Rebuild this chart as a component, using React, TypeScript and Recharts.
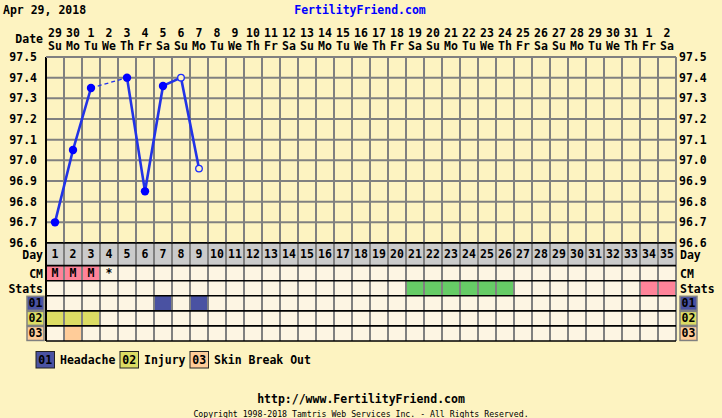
import React from 'react';
import { ComposedChart, Line, XAxis, YAxis, ReferenceLine, ReferenceArea, Scatter } from 'recharts';

const FONT = '"DejaVu Sans Mono", "Liberation Mono", monospace';
const BG = '#fdf3c1';
const CELL = '#fdf5e3';
const GRID = '#808080';

const days = [1, 2, 3, 4, 5, 6, 7, 8, 9, 10, 11, 12, 13, 14, 15, 16, 17, 18, 19, 20, 21, 22, 23, 24, 25, 26, 27, 28, 29, 30, 31, 32, 33, 34, 35];
const dateLabels = ['29', '30', '1', '2', '3', '4', '5', '6', '7', '8', '9', '10', '11', '12', '13', '14', '15', '16', '17', '18', '19', '20', '21', '22', '23', '24', '25', '26', '27', '28', '29', '30', '31', '1', '2'];
const weekdayLabels = ['Su', 'Mo', 'Tu', 'We', 'Th', 'Fr', 'Sa', 'Su', 'Mo', 'Tu', 'We', 'Th', 'Fr', 'Sa', 'Su', 'Mo', 'Tu', 'We', 'Th', 'Fr', 'Sa', 'Su', 'Mo', 'Tu', 'We', 'Th', 'Fr', 'Sa', 'Su', 'Mo', 'Tu', 'We', 'Th', 'Fr', 'Sa'];
const temps: (number | null)[] = [96.7, 97.05, 97.35, null, 97.4, 96.85, 97.36, 97.4, 96.96];
const openDays = [8, 9];
const dashedDays = [3, 5];
const tempTicks = [96.6, 96.7, 96.8, 96.9, 97.0, 97.1, 97.2, 97.3, 97.4, 97.5];

const cmMarks = [
  { day: 1, text: 'M' },
  { day: 2, text: 'M' },
  { day: 3, text: 'M' },
  { day: 4, text: '*' },
];
const cmPinkDays = [1, 2, 3];
const statsGreenDays = [21, 22, 23, 24, 25, 26];
const statsPinkDays = [34, 35];
const sym01Days = [7, 9];
const sym02Days = [1, 2, 3];
const sym03Days = [2];

const rowNames = ['Day', 'CM', 'Stats', '01', '02', '03'];
const rowTops = [0, 1.5, 2.5, 3.5, 4.5, 5.5];
const rowBottoms = [1.5, 2.5, 3.5, 4.5, 5.5, 6.5];
const rowCenters = [0.75, 2, 3, 4, 5, 6];

const symptomColors: Record<string, string> = { '01': '#4a52a2', '02': '#dcdc64', '03': '#ffcc99' };
const PINK = '#ff8399';
const GREEN = '#66cc66';
const legendItems = [
  { code: '01', name: 'Headache' },
  { code: '02', name: 'Injury' },
  { code: '03', name: 'Skin Break Out' },
];

const chartData = days.map((d, i) => ({
  day: d,
  temp: temps[i] ?? null,
  dash: dashedDays.includes(d) ? temps[i] ?? null : null,
}));
const boundaries = [0.5, ...days.map((d) => d + 0.5)];

const textStyle = { fontFamily: FONT, fontWeight: 700, fontSize: 11.5, fill: '#000' } as const;

const TopTick = (props: any) => {
  const { x, y, payload } = props;
  const i = days.indexOf(payload.value);
  return (
    <g>
      <text x={x} y={y - 20} textAnchor="middle" style={textStyle}>{dateLabels[i]}</text>
      <text x={x} y={y - 7} textAnchor="middle" style={textStyle}>{weekdayLabels[i]}</text>
    </g>
  );
};

const TempTick = (props: any) => {
  const { x, y, payload, textAnchor } = props;
  return (
    <text x={x} y={y + 4} textAnchor={textAnchor} style={textStyle}>{Number(payload.value).toFixed(1)}</text>
  );
};

const RowTick = (props: any) => {
  const { x, y, payload, orientation } = props;
  const idx = rowCenters.indexOf(payload.value);
  const name = rowNames[idx];
  if (symptomColors[name]) {
    const rx = orientation === 'left' ? x - 16 : x + 1;
    return (
      <g>
        <rect x={rx} y={y - 7} width={17} height={14} fill={symptomColors[name]} stroke={GRID} strokeWidth={1.5} />
        <text x={rx + 8.5} y={y + 4} textAnchor="middle" style={textStyle}>{name}</text>
      </g>
    );
  }
  return (
    <text x={orientation === 'left' ? x : x + 1} y={y + 4.5} textAnchor={orientation === 'left' ? 'end' : 'start'} style={textStyle}>{name}</text>
  );
};

const TempDot = (props: any) => {
  const { cx, cy, payload, index } = props;
  if (payload.temp == null || cx == null || cy == null) return <g key={index} />;
  if (openDays.includes(payload.day)) {
    return <circle key={index} cx={cx} cy={cy} r={3.3} fill={BG} stroke="#1a2bff" strokeWidth={1.3} />;
  }
  return <circle key={index} cx={cx} cy={cy} r={4.2} fill="#0000ff" stroke="none" />;
};

const CellText = (props: any) => {
  const { cx, cy, payload } = props;
  return <text x={cx} y={cy + 4} textAnchor="middle" style={textStyle}>{payload.label}</text>;
};

const cellAreas: { day: number; row: number; fill: string }[] = [
  ...cmPinkDays.map((d) => ({ day: d, row: 1, fill: PINK })),
  ...statsGreenDays.map((d) => ({ day: d, row: 2, fill: GREEN })),
  ...statsPinkDays.map((d) => ({ day: d, row: 2, fill: PINK })),
  ...sym01Days.map((d) => ({ day: d, row: 3, fill: symptomColors['01'] })),
  ...sym02Days.map((d) => ({ day: d, row: 4, fill: symptomColors['02'] })),
  ...sym03Days.map((d) => ({ day: d, row: 5, fill: symptomColors['03'] })),
];

const dayText = days.map((d) => ({ x: d, y: rowCenters[0], label: String(d) }));
const cmText = cmMarks.map((m) => ({ x: m.day, y: rowCenters[1], label: m.text }));

export default function App() {
  return (
    <div style={{ position: 'absolute', left: 0, top: 0, width: 722, height: 418, background: BG, overflow: 'hidden' }}>
      <svg width={722} height={418} style={{ position: 'absolute', left: 0, top: 0 }}>
        <text x={3} y={14} style={textStyle}>Apr 29, 2018</text>
        <text x={360} y={14} textAnchor="middle" style={{ ...textStyle, fill: '#0000ff' }}>FertilityFriend.com</text>
        <text x={43} y={43} textAnchor="end" style={textStyle}>Date</text>
        {legendItems.map((it, i) => {
          const bx = [36, 120, 190][i];
          return (
            <g key={it.code}>
              <rect x={bx} y={351.5} width={18.5} height={16.5} fill={symptomColors[it.code]} stroke="#222" strokeWidth={1} />
              <text x={bx + 9.25} y={364} textAnchor="middle" style={textStyle}>{it.code}</text>
              <text x={bx + 24} y={364} style={textStyle}>{it.name}</text>
            </g>
          );
        })}
        <text x={361} y={403} textAnchor="middle" style={textStyle}>http://www.FertilityFriend.com</text>
        <text x={361} y={416.5} textAnchor="middle" style={{ fontFamily: FONT, fontSize: 8.2, fill: '#000' }}>
          Copyright 1998-2018 Tamtris Web Services Inc. - All Rights Reserved.
        </text>
      </svg>

      <div style={{ position: 'absolute', left: 0, top: 0 }}>
        <ComposedChart width={722} height={262} data={chartData} margin={{ top: 17, right: 0, left: 0, bottom: 19 }}>
          <XAxis
            dataKey="day"
            type="number"
            orientation="top"
            domain={[0.5, 35.5]}
            allowDataOverflow
            ticks={days}
            height={40}
            tickSize={0}
            tickMargin={0}
            tickLine={false}
            axisLine={{ stroke: GRID, strokeWidth: 2 }}
            tick={<TopTick />}
            interval={0}
          />
          <YAxis
            yAxisId="l"
            orientation="left"
            type="number"
            domain={[96.6, 97.5]}
            allowDataOverflow
            ticks={tempTicks}
            width={46}
            tickSize={0}
            tickMargin={9}
            tickLine={false}
            axisLine={false}
            tick={<TempTick />}
            interval={0}
          />
          <YAxis
            yAxisId="r"
            orientation="right"
            type="number"
            domain={[96.6, 97.5]}
            allowDataOverflow
            ticks={tempTicks}
            width={46}
            tickSize={0}
            tickMargin={3}
            tickLine={false}
            axisLine={false}
            tick={<TempTick />}
            interval={0}
          />
          {tempTicks.map((t) => (
            <ReferenceLine key={'h' + t} yAxisId="l" y={t} stroke={t === 96.6 ? '#000' : GRID} strokeWidth={2} />
          ))}
          {boundaries.map((b) => (
            <ReferenceLine key={'v' + b} yAxisId="l" x={b} stroke={b === 0.5 ? '#000' : GRID} strokeWidth={2} />
          ))}
          <Line
            yAxisId="l"
            dataKey="dash"
            stroke="#2233ee"
            strokeWidth={1.3}
            strokeDasharray="4 3"
            connectNulls
            dot={false}
            activeDot={false}
            isAnimationActive={false}
          />
          <Line
            yAxisId="l"
            dataKey="temp"
            stroke="#2233e6"
            strokeWidth={2.6}
            connectNulls={false}
            dot={<TempDot />}
            activeDot={false}
            isAnimationActive={false}
          />
        </ComposedChart>
      </div>

      <div style={{ position: 'absolute', left: 0, top: 242 }}>
        <ComposedChart width={722} height={101} margin={{ top: 1, right: 0, left: 0, bottom: 2 }}>
          <XAxis dataKey="x" type="number" domain={[0.5, 35.5]} allowDataOverflow hide />
          <YAxis
            yAxisId="l"
            orientation="left"
            type="number"
            dataKey="y"
            domain={[0, 6.5]}
            reversed
            allowDataOverflow
            ticks={rowCenters}
            width={46}
            tickSize={0}
            tickMargin={3}
            tickLine={false}
            axisLine={false}
            tick={<RowTick />}
            interval={0}
          />
          <YAxis
            yAxisId="r"
            orientation="right"
            type="number"
            domain={[0, 6.5]}
            reversed
            allowDataOverflow
            ticks={rowCenters}
            width={46}
            tickSize={0}
            tickMargin={3}
            tickLine={false}
            axisLine={false}
            tick={<RowTick />}
            interval={0}
          />
          <ReferenceArea yAxisId="l" x1={0.5} x2={35.5} y1={rowTops[0]} y2={rowBottoms[0]} fill="#cbcbcb" fillOpacity={1} stroke="none" />
          <ReferenceArea yAxisId="l" x1={0.5} x2={35.5} y1={rowTops[1]} y2={rowBottoms[5]} fill={CELL} fillOpacity={1} stroke="none" />
          {cellAreas.map((c, i) => (
            <ReferenceArea
              key={'c' + i}
              yAxisId="l"
              x1={c.day - 0.5}
              x2={c.day + 0.5}
              y1={rowTops[c.row]}
              y2={rowBottoms[c.row]}
              fill={c.fill}
              fillOpacity={1}
              stroke="none"
            />
          ))}
          {boundaries.map((b) => (
            <ReferenceLine key={'tv' + b} yAxisId="l" x={b} stroke={b === 0.5 ? '#000' : GRID} strokeWidth={2} />
          ))}
          {[0, ...rowBottoms].map((y) => (
            <ReferenceLine key={'th' + y} yAxisId="l" y={y} stroke="#000" strokeWidth={1.6} />
          ))}
          <Scatter yAxisId="l" data={dayText} dataKey="y" shape={<CellText />} isAnimationActive={false} />
          <Scatter yAxisId="l" data={cmText} dataKey="y" shape={<CellText />} isAnimationActive={false} />
        </ComposedChart>
      </div>
    </div>
  );
}
